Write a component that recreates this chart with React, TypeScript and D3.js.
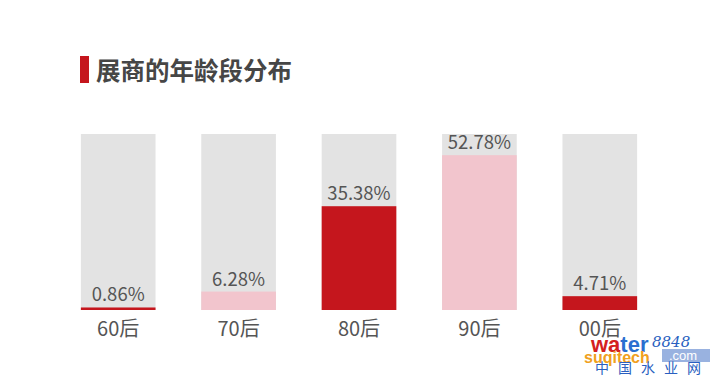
import React from "react";
import * as d3 from "d3";

const categories = ["60后", "70后", "80后", "90后", "00后"];
const values = [0.86, 6.28, 35.38, 52.78, 4.71];
const labels = ["0.86%", "6.28%", "35.38%", "52.78%", "4.71%"];
const fillKinds = ["red", "pink", "red", "pink", "red"];
const title = "展商的年龄段分布";

const W = 720;
const H = 378;
const colors: Record<string, string> = { red: "#c5161d", pink: "#f2c5cd" };
const grey = "#e3e3e3";
const textColor = "#555";
const font = "'Noto Sans CJK SC', 'Noto Sans', sans-serif";

export default function App() {
  const x = d3
    .scaleBand<string>()
    .domain(categories)
    .range([58, 660])
    .paddingInner(0.38)
    .paddingOuter(0.19);
  const y = d3.scaleLinear().domain([0, 60]).range([310, 134]);
  const bw = x.bandwidth();

  return (
    <svg
      width={W}
      height={H}
      style={{ position: "absolute", left: 0, top: 0, background: "#fff" }}
      fontFamily={font}
    >
      <rect x={0} y={0} width={W} height={H} fill="#fff" />
      <rect x={80} y={56} width={9} height={27} fill="#c5161d" />
      <text x={96} y={80} fontSize={24.5} fontWeight={700} fill="#464646">
        {title}
      </text>
      {categories.map((c, i) => {
        const x0 = x(c)!;
        const top = y(values[i]);
        return (
          <g key={c}>
            <rect x={x0} y={y(60)} width={bw} height={y(0) - y(60)} fill={grey} />
            <rect
              x={x0}
              y={top}
              width={bw}
              height={y(0) - top}
              fill={colors[fillKinds[i]]}
            />
            <text
              x={x0 + bw / 2}
              y={top - 6}
              textAnchor="middle"
              fontSize={18.5}
              fill={textColor}
            >
              {labels[i]}
            </text>
            <text
              x={x0 + bw / 2}
              y={336}
              textAnchor="middle"
              fontSize={20}
              fill={textColor}
            >
              {c}
            </text>
          </g>
        );
      })}
      <g>
        <text x={591} y={352} fontSize={22} fontWeight={700} fontFamily="'Liberation Sans', sans-serif">
          <tspan fill="#d42020">wa</tspan>
          <tspan fill="#2a6fd0">ter</tspan>
        </text>
        <text x={652} y={347} fontSize={15} fontStyle="italic" fill="#2a5fc0" fontFamily="'DejaVu Serif', serif">
          8848
        </text>
        <rect x={662} y={349} width={48} height={13} fill="#7f9fd8" opacity={0.8} />
        <text x={584} y={363} fontSize={16} fontWeight={700} fill="#f0a020" fontFamily="'Liberation Sans', sans-serif">
          suqitech
        </text>
        <text x={669} y={360} fontSize={13} fill="#fff" fontFamily="'Liberation Sans', sans-serif">
          .com
        </text>
        <text x={595} y={373} fontSize={14} fill="#2a5fc0" letterSpacing={9}>
          中国水业网
        </text>
      </g>
    </svg>
  );
}
